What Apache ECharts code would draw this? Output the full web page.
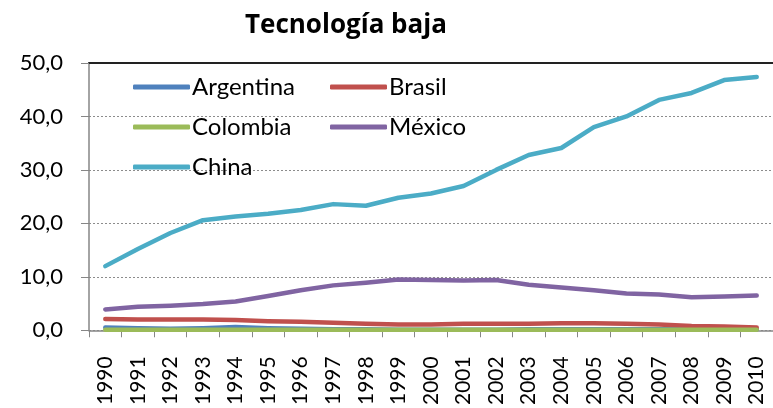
<!DOCTYPE html>
<html lang="es">
<head>
<meta charset="UTF-8">
<title>Tecnología baja</title>
<script src="https://cdn.jsdelivr.net/npm/echarts@6.0.0/dist/echarts.min.js"></script>
<style>body{margin:0;background:#fff}</style>
</head>
<body>
<div id="chart" style="width:773px;height:408px;"></div>
<script>
// años
const years = ['1990','1991','1992','1993','1994','1995','1996','1997','1998','1999','2000',
               '2001','2002','2003','2004','2005','2006','2007','2008','2009','2010'];
const argentina = [0.5,0.4,0.3,0.4,0.6,0.4,0.3,0.2,0.2,0.1,0.1,0.1,0.1,0.2,0.2,0.2,0.2,0.2,0.2,0.2,0.2];
const brasil    = [2.1,2.0,2.0,2.0,1.9,1.7,1.6,1.4,1.2,1.1,1.1,1.2,1.2,1.2,1.3,1.3,1.2,1.1,0.8,0.7,0.5];
const colombia  = [0.1,0.1,0.1,0.1,0.1,0.1,0.1,0.1,0.1,0.1,0.1,0.1,0.1,0.1,0.1,0.1,0.1,0.1,0.1,0.1,0.1];
const mexico    = [3.9,4.4,4.6,4.9,5.4,6.4,7.5,8.4,8.9,9.5,9.4,9.3,9.4,8.5,8.0,7.5,6.9,6.7,6.2,6.3,6.5];
const china     = [12.0,15.2,18.2,20.6,21.3,21.8,22.5,23.6,23.3,24.8,25.6,27.0,30.0,32.8,34.1,38.0,40.0,43.1,44.4,46.8,47.4];

const names  = ['Argentina','Brasil','Colombia','México','China'];
const values = [argentina, brasil, colombia, mexico, china];
const colors = ['#4F81BD','#C0504D','#9BBB59','#8064A2','#4BACC6'];

const font = 'Lato';

// posiciones de la leyenda (2 columnas)
const legendPos = [[133,75],[330,75],[133,115],[330,115],[133,155]];

let chart = echarts.init(document.getElementById('chart'));

let option = {
    animation: false,
    title: {
        text: 'Tecnología baja',
        left: 245, top: 13, padding: 0,
        textStyle: { fontFamily: 'Open Sans', fontSize: 26, fontWeight: 'bold', color: '#000' }
    },
    legend: names.map((n, i) => ({
        data: [n],
        left: legendPos[i][0], top: legendPos[i][1],
        padding: 0,
        icon: 'roundRect',
        itemWidth: 57, itemHeight: 5,
        itemStyle: { color: colors[i] },
        textStyle: { fontFamily: font, fontSize: 24, color: '#000', padding: [0,0,0,-3] }
    })),
    grid: { left: 89, top: 63, right: -5, bottom: 77 },
    xAxis: [{
        type: 'category',
        data: years,
        boundaryGap: true,
        axisLine: { lineStyle: { color: '#868686', width: 1.5 } },
        axisTick: { show: true, length: 7, interval: 0, lineStyle: { color: '#868686' } },
        axisLabel: { rotate: 90, interval: 0, margin: 26, fontFamily: font, fontSize: 21, color: '#000' }
    }, {
        type: 'category',
        position: 'top',
        data: years,
        axisLine: { show: true, lineStyle: { color: '#222', width: 2 } },
        axisTick: { show: false },
        axisLabel: { show: false }
    }],
    yAxis: {
        type: 'value',
        min: 0, max: 50, interval: 10,
        axisLine: { show: true, lineStyle: { color: '#868686', width: 1.5 } },
        axisTick: { show: true, length: 8, lineStyle: { color: '#868686' } },
        splitLine: { lineStyle: { color: '#8c8c8c', type: [2,2], width: 1 } },
        axisLabel: {
            margin: 26, fontFamily: font, fontSize: 22, color: '#000',
            formatter: v => v.toFixed(1).replace('.', ',')
        }
    },
    series: names.map((n, i) => ({
        name: n,
        type: 'line',
        data: values[i],
        symbol: 'none',
        color: colors[i],
        lineStyle: { width: 4.5, color: colors[i], cap: 'round', join: 'round' }
    }))
};

chart.setOption(option);
</script>
</body>
</html>
